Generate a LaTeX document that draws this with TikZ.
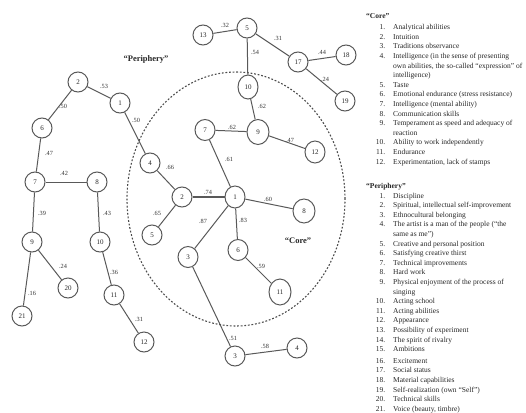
\documentclass[tikz,border=0pt]{standalone}
\usepackage{fontspec}
\setmainfont{Liberation Serif}
\usetikzlibrary{shapes.geometric}
\newcommand\lnum[1]{\makebox[19pt][r]{#1.}\hspace{8pt}}
\newcommand\lcont{\hspace{27pt}}
\begin{document}
\begin{tikzpicture}[x=1pt,y=-1pt,
  nd/.style={draw=black!65, line width=1pt, ellipse, minimum width=20pt, minimum height=20pt, inner sep=0pt, text=black!85, font=\fontsize{7}{8}\selectfont},
  ed/.style={draw=black!65, line width=1pt},
  thk/.style={draw=black!65, line width=2pt},
  lbl/.style={inner sep=0pt, text=black!80, font=\fontsize{6.3}{7}\selectfont},
  zone/.style={draw=black!70, line width=1.1pt, dash pattern=on 1.8pt off 1.8pt},
  ttl/.style={inner sep=0pt, text=black!85, font=\fontsize{8.5}{10}\selectfont\bfseries},
  lst/.style={anchor=north west, inner sep=0pt, align=left, text=black!85, font=\fontsize{7.5}{9.6}\selectfont}]
\useasboundingbox (0,0) rectangle (526,412);

% dashed core zone
\draw[zone] (236,199) ellipse [x radius=109pt, y radius=127pt];

% core nodes
\node[nd, minimum height=22pt] (c1) at (235,197) {1};
\node[nd] (c2) at (182,197) {2};
\node[nd, minimum height=21pt] (c3) at (188,257) {3};
\node[nd] (c4) at (150,163) {4};
\node[nd] (c5) at (152,235) {5};
\node[nd, minimum height=21pt] (c6) at (238,250) {6};
\node[nd, minimum height=21pt] (c7) at (205,130) {7};
\node[nd, minimum width=22pt, minimum height=24pt] (c8) at (304,211) {8};
\node[nd, minimum width=22pt, minimum height=25pt] (c9) at (258,132) {9};
\node[nd, minimum width=20pt, minimum height=24pt] (c10) at (248,87) {10};
\node[nd, minimum width=22pt, minimum height=26pt] (c11) at (280,292) {11};
\node[nd, minimum width=20pt, minimum height=22pt] (c12) at (315,152) {12};

% periphery nodes
\node[nd] (p1) at (120,103) {1};
\node[nd] (p2) at (78,82) {2};
\node[nd] (p6) at (42,128) {6};
\node[nd] (p7) at (35,182) {7};
\node[nd] (p8) at (97,182) {8};
\node[nd] (p9) at (32,242) {9};
\node[nd] (p10) at (100,242) {10};
\node[nd] (p11) at (114,295) {11};
\node[nd] (p12) at (144,342) {12};
\node[nd] (p20) at (68,288) {20};
\node[nd] (p21) at (22,316) {21};
\node[nd] (p13) at (203,35) {13};
\node[nd] (p5) at (247,28) {5};
\node[nd] (p17) at (298,62) {17};
\node[nd] (p18) at (346,55) {18};
\node[nd] (p19) at (345,101) {19};
\node[nd] (p3) at (235,356) {3};
\node[nd] (p4) at (297,348) {4};

% edges
\draw[ed] (p2) -- (p1) node[lbl] at (104,86) {.53};
\draw[ed] (p2) -- (p6) node[lbl] at (63,106) {.50};
\draw[ed] (p1) -- (c4) node[lbl] at (136,120) {.50};
\draw[ed] (p6) -- (p7) node[lbl] at (49,153) {.47};
\draw[ed] (p7) -- (p8) node[lbl] at (64,173) {.42};
\draw[ed] (p7) -- (p9) node[lbl] at (42,213) {.39};
\draw[ed] (p8) -- (p10) node[lbl] at (107,213) {.43};
\draw[ed] (p9) -- (p20) node[lbl] at (63,266) {.24};
\draw[ed] (p9) -- (p21) node[lbl] at (32,293) {.16};
\draw[ed] (p10) -- (p11) node[lbl] at (114,272) {.36};
\draw[ed] (p11) -- (p12) node[lbl] at (139,319) {.31};
\draw[ed] (c4) -- (c2) node[lbl] at (170,167) {.66};
\draw[ed] (c5) -- (c2) node[lbl] at (157,213) {.65};
\draw[thk] (c2) -- (c1) node[lbl] at (208,192) {.74};
\draw[ed] (c1) -- (c7) node[lbl] at (229,159) {.61};
\draw[ed] (c7) -- (c9) node[lbl] at (232,127) {.62};
\draw[ed] (c9) -- (c10) node[lbl] at (262,106) {.62};
\draw[ed] (c9) -- (c12) node[lbl] at (290,140) {.47};
\draw[ed] (c1) -- (c8) node[lbl] at (268,199) {.60};
\draw[ed] (c1) -- (c3) node[lbl] at (203,221) {.87};
\draw[ed] (c1) -- (c6) node[lbl] at (243,220) {.83};
\draw[ed] (c6) -- (c11) node[lbl] at (261,266) {.59};
\draw[ed] (c3) -- (p3) node[lbl] at (233,338) {.51};
\draw[ed] (p3) -- (p4) node[lbl] at (265,346) {.58};
\draw[ed] (p13) -- (p5) node[lbl] at (225,25) {.32};
\draw[ed] (p5) -- (c10) node[lbl] at (255,52) {.54};
\draw[ed] (p5) -- (p17) node[lbl] at (278,38) {.31};
\draw[ed] (p17) -- (p18) node[lbl] at (322,52) {.44};
\draw[ed] (p17) -- (p19) node[lbl] at (325,79) {.24};

% zone titles
\node[ttl] (tper) at (146,59) {``Periphery''};
\node[ttl] (tcore) at (298,241) {``Core''};

% legend lists
\node[lst] (corelist) at (366,13) {%
\textbf{``Core''}\\[2pt]
\lnum{1}Analytical abilities\\
\lnum{2}Intuition\\
\lnum{3}Traditions observance\\
\lnum{4}Intelligence (in the sense of presenting\\
\lcont own abilities, the so-called ``expression'' of\\
\lcont intelligence)\\
\lnum{5}Taste\\
\lnum{6}Emotional endurance (stress resistance)\\
\lnum{7}Intelligence (mental ability)\\
\lnum{8}Communication skills\\
\lnum{9}Temperament as speed and adequacy of\\
\lcont reaction\\
\lnum{10}Ability to work independently\\
\lnum{11}Endurance\\
\lnum{12}Experimentation, lack of stamps};

\node[lst] (perlist) at (366,183) {%
\textbf{``Periphery''}\\
\lnum{1}Discipline\\
\lnum{2}Spiritual, intellectual self-improvement\\
\lnum{3}Ethnocultural belonging\\
\lnum{4}The artist is a man of the people (``the\\
\lcont same as me'')\\
\lnum{5}Creative and personal position\\
\lnum{6}Satisfying creative thirst\\
\lnum{7}Technical improvements\\
\lnum{8}Hard work\\
\lnum{9}Physical enjoyment of the process of\\
\lcont singing\\
\lnum{10}Acting school\\
\lnum{11}Acting abilities\\
\lnum{12}Appearance\\
\lnum{13}Possibility of experiment\\
\lnum{14}The spirit of rivalry\\
\lnum{15}Ambitions\\[2pt]
\lnum{16}Excitement\\
\lnum{17}Social status\\
\lnum{18}Material capabilities\\
\lnum{19}Self-realization (own ``Self'')\\
\lnum{20}Technical skills\\
\lnum{21}Voice (beauty, timbre)};
\end{tikzpicture}
\end{document}
